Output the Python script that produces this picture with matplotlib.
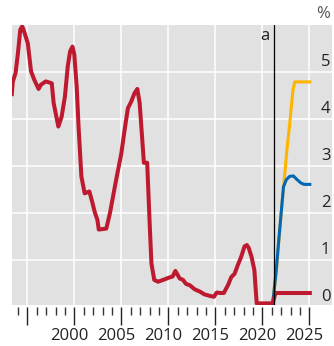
import matplotlib
matplotlib.use("Agg")
import matplotlib.pyplot as plt
import matplotlib.transforms as mtransforms

# Policy rate (red), forecast paths (blue, yellow); values in %
red_years = [1993.35, 1993.45, 1993.75, 1994.0, 1994.25, 1994.45, 1994.6, 1995.05,
             1995.4, 1995.75, 1996.2, 1996.45, 1996.95, 1997.3, 1997.6, 1997.8,
             1998.3, 1998.65, 1999.0, 1999.3, 1999.55, 1999.8, 2000.0, 2000.25,
             2000.45, 2000.75, 2001.1, 2001.6, 2001.9, 2002.2, 2002.45, 2002.6,
             2003.4, 2003.8, 2004.45, 2005.0, 2005.35, 2005.7, 2006.05, 2006.4,
             2006.7, 2006.95, 2007.4, 2007.75, 2008.0, 2008.2, 2008.5, 2008.9,
             2009.6, 2010.1, 2010.45, 2010.75, 2011.2, 2011.55, 2011.9, 2012.25,
             2012.8, 2013.35, 2013.85, 2014.4, 2014.85, 2015.15, 2015.55, 2015.9,
             2016.35, 2016.7, 2017.05, 2017.4, 2017.75, 2018.1, 2018.35, 2018.55,
             2018.85, 2019.15, 2019.4, 2021.1, 2021.4, 2025.05]
red_vals = [4.52, 4.78, 4.97, 5.39, 5.89, 5.96, 5.89, 5.6,
            5.0, 4.82, 4.63, 4.72, 4.79, 4.77, 4.75, 4.33,
            3.83, 4.04, 4.47, 5.11, 5.43, 5.53, 5.36, 4.68,
            3.83, 2.77, 2.41, 2.45, 2.23, 1.99, 1.85, 1.64,
            1.66, 2.0, 2.7, 3.26, 3.76, 4.22, 4.36, 4.54,
            4.63, 4.33, 3.06, 3.06, 1.84, 0.92, 0.57, 0.53,
            0.58, 0.62, 0.64, 0.76, 0.6, 0.57, 0.48, 0.46,
            0.37, 0.32, 0.26, 0.23, 0.21, 0.30, 0.29, 0.29,
            0.46, 0.63, 0.7, 0.89, 1.06, 1.28, 1.31, 1.25,
            1.06, 0.78, 0.07, 0.07, 0.29, 0.29]

blue_years = [2021.1, 2021.45, 2021.75, 2022.0, 2022.25, 2022.55, 2022.9,
              2023.3, 2023.65, 2024.1, 2024.45, 2025.05]
blue_vals = [0.07, 0.71, 1.42, 1.99, 2.55, 2.7, 2.77, 2.78, 2.71, 2.63, 2.6, 2.6]

yellow_years = [2021.1, 2021.5, 2021.8, 2022.1, 2022.35, 2022.6, 2022.95,
                2023.25, 2023.45, 2025.05]
yellow_vals = [0.07, 0.8, 1.5, 2.2, 2.75, 3.3, 3.97, 4.6, 4.78, 4.78]

marker_year = 2021.25
y_ticks = [0, 1, 2, 3, 4, 5]
x_major = [1995, 2000, 2005, 2010, 2015, 2020, 2025]
x_labels = ["", "2000", "2005", "2010", "2015", "2020", "2025"]
x_minor = [y for y in range(1994, 2025) if y % 5 != 0]

RED = "#be1a2f"
BLUE = "#0068b4"
YELLOW = "#ffb400"
BG = "#e1e1e1"

plt.rcParams["font.family"] = ["Open Sans", "DejaVu Sans"]

fig = plt.figure(figsize=(3.34, 3.46), dpi=100)
ax = fig.add_axes([12 / 334, 41 / 346, 320 / 334, 280 / 346])
ax.set_facecolor(BG)

ax.set_xlim(1993.37, 2027.41)
ax.set_ylim(0.035, 5.99)

# white grid
for v in y_ticks[1:]:
    ax.axhline(v, color="white", lw=1.1, zorder=1)
for yr in x_major:
    ax.axvline(yr, color="white", lw=1.1, zorder=1)

ax.plot(yellow_years, yellow_vals, color=YELLOW, lw=2.2, zorder=3)
ax.plot(blue_years, blue_vals, color=BLUE, lw=2.2, zorder=4)
ax.plot(red_years, red_vals, color=RED, lw=2.9, zorder=5,
        solid_joinstyle="round")

ax.axvline(marker_year, color="black", lw=0.9, zorder=6)
ax.text(marker_year, 5.75, "a", ha="right", va="center", fontsize=12,
        color="#222222",
        transform=ax.transData + mtransforms.ScaledTranslation(-0.05, 0, fig.dpi_scale_trans))

# y labels sit inside the plot, just above each grid line
ylab_tf = mtransforms.blended_transform_factory(ax.transAxes, ax.transData)
for v in y_ticks:
    ax.text(0.995, v + 0.21, str(v), ha="right", va="center", fontsize=12,
            color="#222222", transform=ylab_tf)
ax.text(0.995, 1.0375, "%", ha="right", va="center", fontsize=12,
        color="#555555", transform=ax.transAxes)

for s in ax.spines.values():
    s.set_visible(False)
ax.spines["bottom"].set_position(("outward", 1.5))

ax.set_yticks([])
ax.set_xticks(x_major)
ax.set_xticklabels(x_labels)
ax.set_xticks(x_minor, minor=True)
ax.tick_params(axis="x", which="major", direction="out", length=13, width=1.0,
               color="#222222", labelsize=12, pad=2, labelcolor="#222222")
ax.tick_params(axis="x", which="minor", direction="out", length=5.5, width=1.0,
               color="#333333")
shift = mtransforms.ScaledTranslation(-0.05, 0, fig.dpi_scale_trans)
for lab in ax.get_xticklabels():
    lab.set_transform(lab.get_transform() + shift)

fig.savefig("out.png", dpi=100)
